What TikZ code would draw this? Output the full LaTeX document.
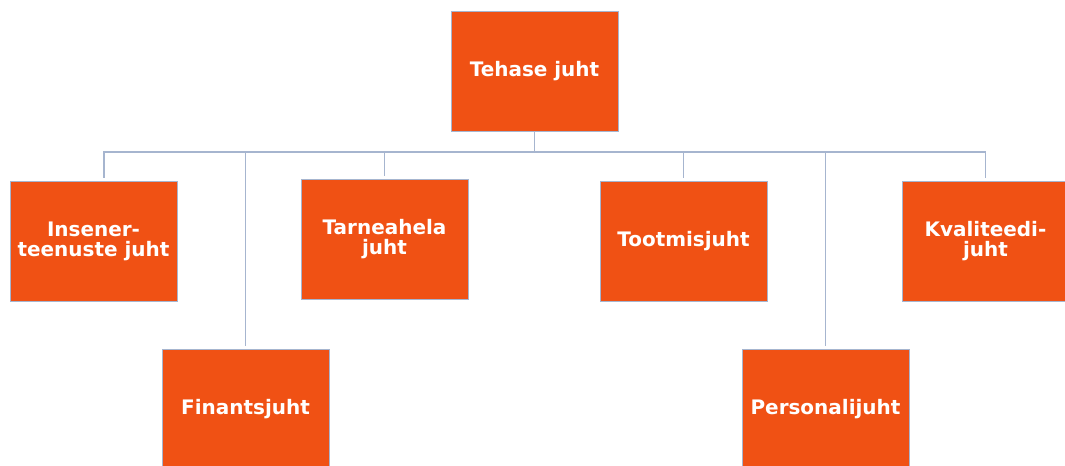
\documentclass[tikz,border=0pt]{standalone}
\usepackage{fontspec}
\setmainfont{DejaVu Sans}
\usepackage{xcolor}
\usepackage{tikz}
\definecolor{juhtorange}{RGB}{240,81,20}
\definecolor{juhtline}{RGB}{166,181,207}

\begin{document}
\begin{tikzpicture}[x=0.025cm, y=-0.025cm,
		juht/.style={draw = juhtline, line width=0.6pt, fill=juhtorange, text=white, minimum width=4.175cm, minimum height=3cm, align=center, font=\fontsize{14.2}{14.2}\selectfont\bfseries},
		conn/.style={draw = juhtline, line width=1pt}]
		\useasboundingbox (0,0) rectangle (1065,466);
		\node[juht] (tehase) at (534.5,71.5) {Tehase juht};
		\node[juht] (insener) at (93.5,241) {Insener-\\teenuste juht};
		\node[juht] (tarne) at (384.5,239.5) {Tarneahela\\juht};
		\node[juht] (tootmis) at (683.5,241) {Tootmisjuht};
		\node[juht] (kvaliteet) at (985.5,241) {Kvaliteedi-\\juht};
		\node[juht] (finants) at (245.5,409) {Finantsjuht};
		\node[juht] (personal) at (825.5,409) {Personalijuht};
		
		\draw [conn] (tehase.south) -- ++(0,20) -| ([shift={(10.5,-3)}]insener.north);
		\draw [conn] (tehase.south) -- ++(0,20) -| ([shift={(0,-3)}]finants.north);
		\draw [conn] (tehase.south) -- ++(0,20) -| ([shift={(0,-3)}]tarne.north);
		\draw [conn] (tehase.south) -- ++(0,20) -| ([shift={(0,-3)}]tootmis.north);
		\draw [conn] (tehase.south) -- ++(0,20) -| ([shift={(0,-3)}]personal.north);
		\draw [conn] (tehase.south) -- ++(0,20) -| ([shift={(0,-3)}]kvaliteet.north);
	\end{tikzpicture}
\end{document}
